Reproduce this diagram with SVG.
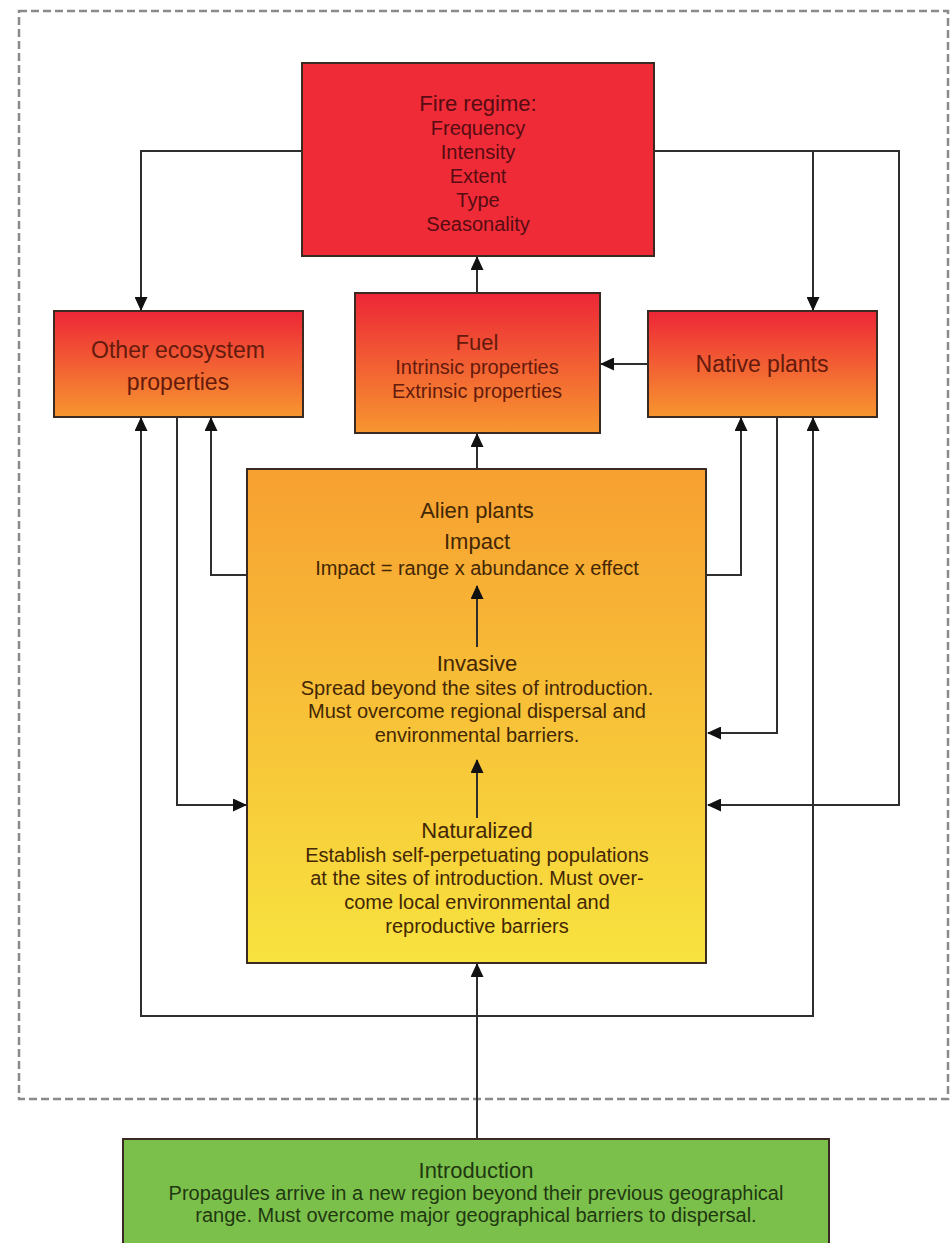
<svg xmlns="http://www.w3.org/2000/svg" width="951" height="1243" viewBox="0 0 951 1243">
<style>
.box{stroke:#3a2a22;stroke-width:2}
.con{fill:none;stroke:#2e2e2e;stroke-width:2}
text{font-family:"Liberation Sans",Arial,sans-serif;text-anchor:middle}
.h{font-size:22px}
.b{font-size:20px}
.fire{fill:#560c12}
.org{fill:#641a0c}
.ali{fill:#432704}
.grn{fill:#1f3810}
</style>
<defs>
<linearGradient id="gRO" x1="0" y1="0" x2="0" y2="1">
<stop offset="0" stop-color="#ed2637"/>
<stop offset="1" stop-color="#f7962f"/>
</linearGradient>
<linearGradient id="gOY" x1="0" y1="0" x2="0" y2="1">
<stop offset="0" stop-color="#f7a031"/>
<stop offset="1" stop-color="#f8e33f"/>
</linearGradient>
<marker id="arr" markerUnits="userSpaceOnUse" markerWidth="14" markerHeight="13" refX="13" refY="6.5" orient="auto">
<path d="M0,0 L14,6.5 L0,13 z" fill="#111"/>
</marker>
</defs>
<rect x="19" y="11" width="929" height="1088" fill="none" stroke="#8a8a8a" stroke-width="2.5" stroke-dasharray="8 4"/>
<g id="connectors">
<path class="con" d="M302,151 H141 V310" marker-end="url(#arr)"/>
<path class="con" d="M654,151 H899 V805 H708" marker-end="url(#arr)"/>
<path class="con" d="M813,151 V310" marker-end="url(#arr)"/>
<path class="con" d="M477,293 V257" marker-end="url(#arr)"/>
<path class="con" d="M648,364 H601" marker-end="url(#arr)"/>
<path class="con" d="M477,469 V434" marker-end="url(#arr)"/>
<path class="con" d="M247,575 H211 V418" marker-end="url(#arr)"/>
<path class="con" d="M177,417 V805 H246" marker-end="url(#arr)"/>
<path class="con" d="M477,1016 H141 V418" marker-end="url(#arr)"/>
<path class="con" d="M477,1016 H813 V418" marker-end="url(#arr)"/>
<path class="con" d="M707,575 H741 V418" marker-end="url(#arr)"/>
<path class="con" d="M777,417 V733 H708" marker-end="url(#arr)"/>
<path class="con" d="M477,1139 V964" marker-end="url(#arr)"/>
</g>
<g id="fire-regime">
<rect class="box" x="302" y="63" width="352" height="193" fill="#ee2b37"/>
<text class="h fire" x="478" y="111">Fire regime:</text>
<text class="b fire" x="478" y="135">Frequency</text>
<text class="b fire" x="478" y="159">Intensity</text>
<text class="b fire" x="478" y="183">Extent</text>
<text class="b fire" x="478" y="207">Type</text>
<text class="b fire" x="478" y="231">Seasonality</text>
</g>
<g id="other-ecosystem">
<rect class="box" x="54" y="311" width="249" height="106" fill="url(#gRO)"/>
<text class="org" style="font-size:23px" x="178" y="358">Other ecosystem</text>
<text class="org" style="font-size:23px" x="178" y="390">properties</text>
</g>
<g id="fuel">
<rect class="box" x="355" y="293" width="245" height="140" fill="url(#gRO)"/>
<text class="h org" x="477" y="350">Fuel</text>
<text class="b org" x="477" y="374">Intrinsic properties</text>
<text class="b org" x="477" y="398">Extrinsic properties</text>
</g>
<g id="native-plants">
<rect class="box" x="648" y="311" width="229" height="106" fill="url(#gRO)"/>
<text class="org" style="font-size:23px" x="762" y="372">Native plants</text>
</g>
<g id="alien-plants">
<rect class="box" x="247" y="469" width="459" height="494" fill="url(#gOY)"/>
<text class="h ali" x="477" y="518">Alien plants</text>
<text class="h ali" x="477" y="549">Impact</text>
<text class="b ali" x="477" y="575">Impact = range x abundance x effect</text>
<path class="con" d="M477,647 V586" marker-end="url(#arr)"/>
<text class="h ali" x="477" y="671">Invasive</text>
<text class="b ali" x="477" y="695">Spread beyond the sites of introduction.</text>
<text class="b ali" x="477" y="718">Must overcome regional dispersal and</text>
<text class="b ali" x="477" y="742">environmental barriers.</text>
<path class="con" d="M477,818 V760" marker-end="url(#arr)"/>
<text class="h ali" x="477" y="838">Naturalized</text>
<text class="b ali" x="477" y="862">Establish self-perpetuating populations</text>
<text class="b ali" x="477" y="885">at the sites of introduction. Must over-</text>
<text class="b ali" x="477" y="909">come local environmental and</text>
<text class="b ali" x="477" y="933">reproductive barriers</text>
</g>
<g id="introduction">
<rect class="box" x="123" y="1139" width="706" height="112" fill="#7cc04c"/>
<text class="h grn" x="476" y="1178">Introduction</text>
<text class="b grn" x="476" y="1200">Propagules arrive in a new region beyond their previous geographical</text>
<text class="b grn" x="476" y="1222">range. Must overcome major geographical barriers to dispersal.</text>
</g>
</svg>
